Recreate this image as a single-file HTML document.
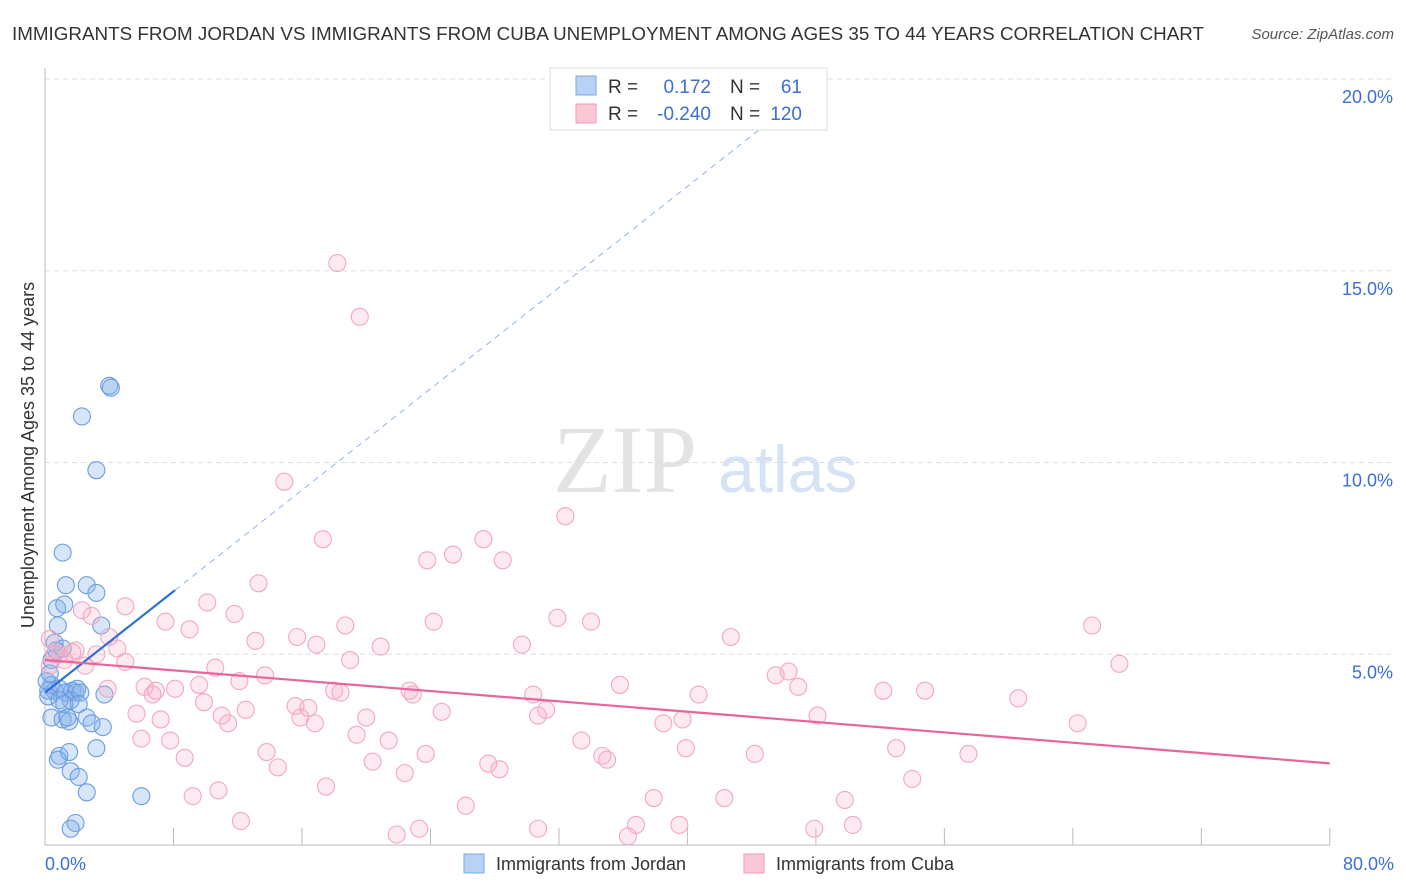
<!DOCTYPE html>
<html><head><meta charset="utf-8"><style>
body{margin:0;background:#fff;font-family:"Liberation Sans",sans-serif}
svg{display:block}
</style></head><body>
<svg width="1406" height="892" xmlns="http://www.w3.org/2000/svg">
<text x="12" y="40" font-size="18" fill="#333" textLength="1192" lengthAdjust="spacingAndGlyphs">IMMIGRANTS FROM JORDAN VS IMMIGRANTS FROM CUBA UNEMPLOYMENT AMONG AGES 35 TO 44 YEARS CORRELATION CHART</text>
<text x="1394" y="39" font-size="15" fill="#555" font-style="italic" text-anchor="end">Source: ZipAtlas.com</text>
<g>
<text x="553" y="492" font-size="96" fill="#e3e3e3" font-family="Liberation Serif,serif">ZIP</text>
<text x="718" y="492" font-size="66" fill="#d5e3f5">atlas</text>
</g>
<g id="grid"></g><g id="axes"></g><g id="blue"></g><g id="pink"></g><g id="lines"></g>
<text transform="translate(34,455) rotate(-90)" font-size="18" fill="#333" text-anchor="middle">Unemployment Among Ages 35 to 44 years</text>
<text x="45" y="870" font-size="18" fill="#3b6fd6">0.0%</text>
<text x="1394" y="870" font-size="18" fill="#3b6fd6" text-anchor="end">80.0%</text>
<g>
<rect x="550" y="68" width="277" height="62" fill="#fff" stroke="#ddd"/>
<rect x="576" y="76" width="20" height="19" fill="#b8d2f5" stroke="#7aa7e6"/>
<rect x="576" y="104" width="20" height="19" fill="#fbc6d6" stroke="#f09ab6"/>
<text x="608" y="93" font-size="19" fill="#333">R =</text>
<text x="711" y="93" font-size="19" fill="#3b6fd6" text-anchor="end">0.172</text>
<text x="730" y="93" font-size="19" fill="#333">N =</text>
<text x="802" y="93" font-size="19" fill="#3b6fd6" text-anchor="end">61</text>
<text x="608" y="120" font-size="19" fill="#333">R =</text>
<text x="711" y="120" font-size="19" fill="#3b6fd6" text-anchor="end">-0.240</text>
<text x="730" y="120" font-size="19" fill="#333">N =</text>
<text x="802" y="120" font-size="19" fill="#3b6fd6" text-anchor="end">120</text>
</g>
<g>
<rect x="464" y="854" width="20" height="19" fill="#b8d2f5" stroke="#7aa7e6"/>
<text x="496" y="870" font-size="18" fill="#333">Immigrants from Jordan</text>
</g>
<g>
<rect x="744" y="854" width="20" height="19" fill="#fbc6d6" stroke="#f09ab6"/>
<text x="776" y="870" font-size="18" fill="#333">Immigrants from Cuba</text>
</g>
</svg>
<script>
const yTicks=[5,10,15,20];
const yTickLabels=["5.0%","10.0%","15.0%","20.0%"];
const xTicks=[8,16,24,32,40,48,56,64,72,80];
const jordanX=[0.4,0.6,0.75,0.8,1.2,1.1,1.3,2.6,3.2,3.5,2.3,4.0,4.1,3.2,1.1,0.2,0.4,0.6,0.9,1.3,1.7,1.9,2.0,1.6,0.2,0.9,1.2,3.7,0.4,1.1,1.5,2.6,2.9,3.6,0.9,1.5,3.2,1.6,2.1,2.6,6.0,1.9,1.6,0.1,0.3,2.2,2.1,0.8,1.4,0.7];
const jordanY=[4.85,5.3,6.2,5.75,6.3,7.65,6.8,6.8,6.6,5.75,11.2,12.0,11.95,9.8,5.15,4.05,4.2,4.05,4.1,4.0,4.05,4.0,4.1,3.8,3.9,3.8,3.7,3.95,3.35,3.3,3.25,3.35,3.2,3.1,2.35,2.45,2.55,1.95,1.8,1.4,1.3,0.6,0.45,4.3,4.5,4.0,3.7,2.25,3.35,5.1];
const cubaX=[18.2,19.6,14.9,32.4,17.3,27.3,25.4,23.8,28.5,13.3,10.1,5.0,11.8,2.3,2.9,7.5,9.0,18.7,24.2,31.9,34.0,65.2,42.7,15.7,13.1,16.9,20.9,29.7,4.0,4.5,3.2,5.0,19.0,66.9,10.6,13.7,45.5,46.3,12.1,9.6,6.2,6.9,8.1,3.9,35.8,46.9,52.2,54.8,18.0,18.4,22.7,22.9,30.4,40.7,6.7,60.6,9.9,15.6,16.4,12.5,31.2,24.7,5.7,11.0,15.9,20.0,30.7,48.1,39.7,38.5,11.4,7.2,16.8,64.3,19.4,6.0,7.8,21.4,33.4,39.9,53.0,13.8,23.7,34.7,35.0,44.2,57.5,8.7,20.4,27.6,14.5,28.3,22.4,54.0,17.5,10.8,9.2,37.9,42.3,49.8,26.2,12.2,23.3,30.7,36.8,39.5,47.9,50.3,21.9,36.3,0.3,0.6,0.9,1.2,1.7,0.3,1.9,2.5];
const cubaY=[15.2,13.8,9.5,8.6,8.0,8.0,7.6,7.45,7.45,6.85,6.35,6.25,6.05,6.15,6.0,5.85,5.65,5.75,5.85,5.95,5.85,5.75,5.45,5.45,5.35,5.25,5.2,5.25,5.45,5.15,5.0,4.8,4.85,4.75,4.65,4.45,4.45,4.55,4.3,4.2,4.15,4.05,4.1,4.1,4.2,4.15,4.05,4.05,4.05,4.0,4.05,3.95,3.95,3.95,3.95,3.85,3.75,3.65,3.6,3.55,3.55,3.5,3.45,3.4,3.35,3.35,3.4,3.4,3.3,3.2,3.2,3.3,3.2,3.2,2.9,2.8,2.75,2.75,2.75,2.55,2.55,2.45,2.4,2.35,2.25,2.4,2.4,2.3,2.2,2.15,2.05,2.0,1.9,1.75,1.55,1.45,1.3,1.25,1.25,1.2,1.05,0.65,0.45,0.45,0.55,0.55,0.45,0.55,0.3,0.25,5.4,5.0,5.0,4.85,5.05,4.7,5.1,4.7];
const jordanFit=[4.0,0.33];
const cubaFit=[4.85,-0.0337];
const NS='http://www.w3.org/2000/svg';
const sx=v=>45+v*16.06;
const sy=v=>846-v*38.35;
function mk(tag,attrs,parent){const e=document.createElementNS(NS,tag);for(const k in attrs)e.setAttribute(k,attrs[k]);document.getElementById(parent).appendChild(e);return e;}
yTicks.forEach((t,i)=>{
 const g=mk('line',{x1:45,x2:1393,y1:sy(t),y2:sy(t),stroke:'#ddd','stroke-dasharray':'5,4'},'grid');
 
 
 const l=mk('text',{x:1393,y:sy(t)+24,'font-size':18,fill:'#3b6fd6','text-anchor':'end'},'grid');
 l.textContent=yTickLabels[i];
 
 
});
const ax=mk('path',{d:'M45 68 V845 H1330',stroke:'#bbb',fill:'none'},'axes');


xTicks.forEach(t=>{
 const k=mk('line',{x1:sx(t),x2:sx(t),y1:828,y2:845,stroke:'#bbb'},'axes');
 
 
});
jordanX.forEach((x,i)=>{
 const c=mk('circle',{cx:sx(x),cy:sy(jordanY[i]),r:8.5,fill:'rgba(130,175,235,0.33)',stroke:'#6b9de2','stroke-width':1.1},'blue');
 
 
});
cubaX.forEach((x,i)=>{
 const c=mk('circle',{cx:sx(x),cy:sy(cubaY[i]),r:8.5,fill:'rgba(246,170,196,0.25)',stroke:'#f2a8c0','stroke-width':1.1},'pink');
 
 
});
const bl=mk('line',{x1:sx(0),y1:sy(jordanFit[0]),x2:sx(8.1),y2:sy(jordanFit[0]+jordanFit[1]*8.1),stroke:'#2f6fd8','stroke-width':2.2},'lines');


const bd=mk('line',{x1:sx(8.1),y1:sy(jordanFit[0]+jordanFit[1]*8.1),x2:sx(47),y2:sy(jordanFit[0]+jordanFit[1]*47),stroke:'#8fb3e8','stroke-width':1,'stroke-dasharray':'6,5'},'lines');


const pl=mk('line',{x1:sx(0),y1:sy(cubaFit[0]),x2:sx(80),y2:sy(cubaFit[0]+cubaFit[1]*80),stroke:'#e8659a','stroke-width':2.2},'lines');


</script>
</body></html>
